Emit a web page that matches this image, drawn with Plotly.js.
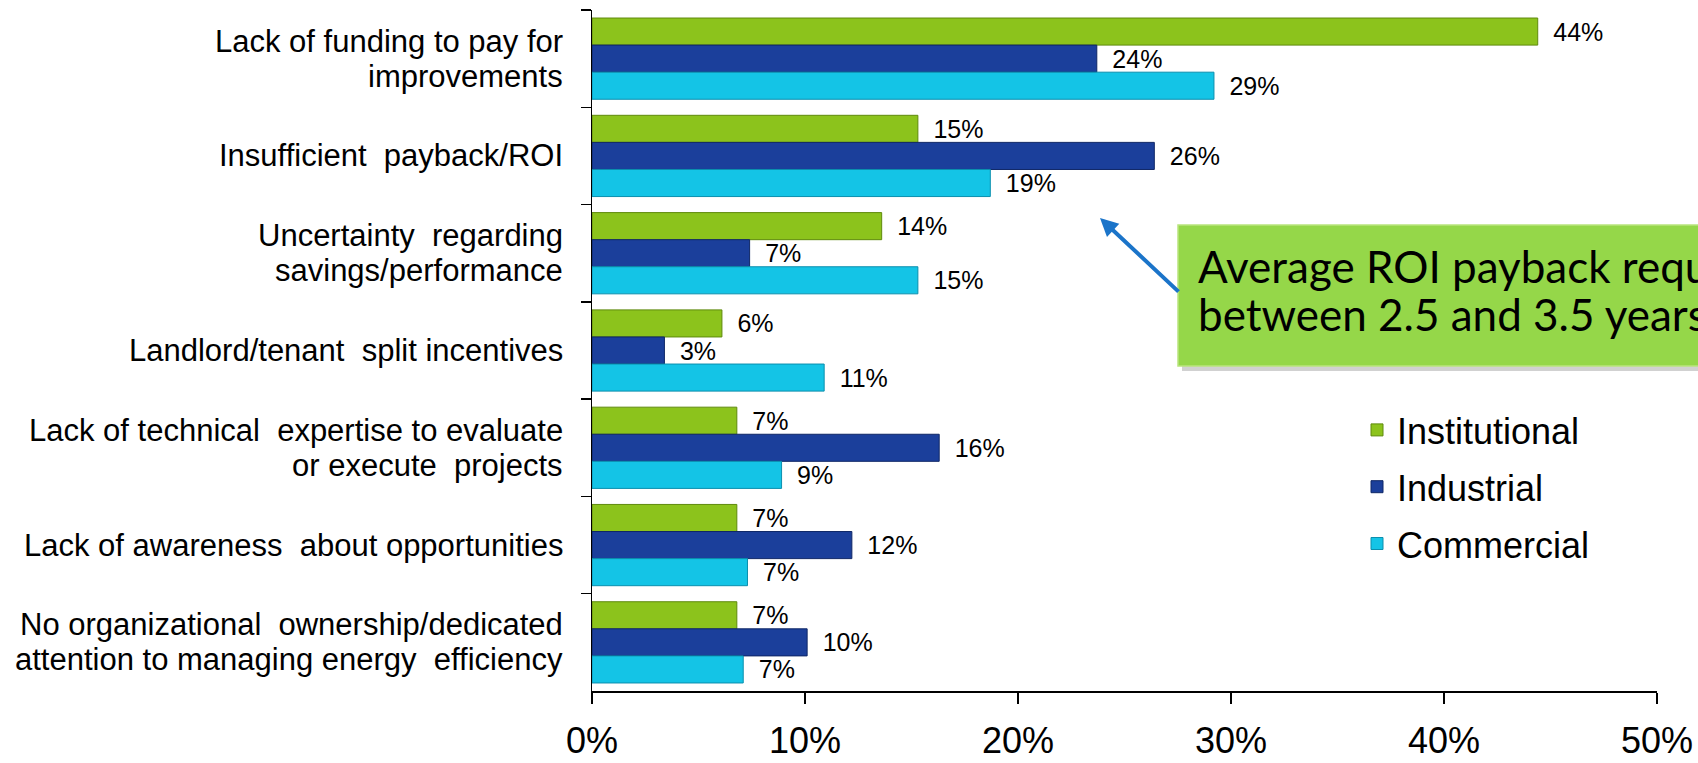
<!DOCTYPE html>
<html>
<head>
<meta charset="utf-8">
<script src="https://cdn.plot.ly/plotly-3.0.1.min.js"></script>
<style>
html,body{margin:0;padding:0;overflow:hidden;background:#ffffff;}
#chart{width:1698px;height:763px;overflow:hidden;}
</style>
</head>
<body>
<div id="chart"></div>
<script>
// ---- Data ----
const categories = [
  "Lack of funding to pay for<br>improvements",
  "Insufficient  payback/ROI",
  "Uncertainty  regarding<br>savings/performance",
  "Landlord/tenant  split incentives",
  "Lack of technical  expertise to evaluate<br>or execute  projects",
  "Lack of awareness  about opportunities",
  "No organizational  ownership/dedicated<br>attention to managing energy  efficiency"
];
const seriesNames = ["Institutional", "Industrial", "Commercial"];
const institutional = [0.444, 0.153, 0.136, 0.061, 0.068, 0.068, 0.068];
const industrial    = [0.237, 0.264, 0.074, 0.034, 0.163, 0.122, 0.101];
const commercial    = [0.292, 0.187, 0.153, 0.109, 0.089, 0.073, 0.071];
const tickValues = [0, 0.1, 0.2, 0.3, 0.4, 0.5];
const tickLabels = ["0%", "10%", "20%", "30%", "40%", "50%"];
const calloutLines = ["Average ROI payback required is", "between 2.5 and 3.5 years"];

// ---- Styling ----
const W = 1698, H = 763;
const M = {l: 592, r: 41, t: 10, b: 72};
const PW = W - M.l - M.r, PH = H - M.t - M.b;
const px2x = px => (px - M.l) / PW;
const px2y = py => 1 - (py - M.t) / PH;
const baseFont = "Liberation Sans, Arial, sans-serif";

const fills = ["#8cc31c", "#1b3f9b", "#14c4e6"];
const edges = ["#5f8a0c", "#0f2766", "#0b8fae"];
const valuesBySeries = [institutional, industrial, commercial];

const traces = seriesNames.map((name, i) => ({
  type: "bar",
  orientation: "h",
  name: name,
  legendgroup: name,
  x: valuesBySeries[i],
  y: categories,
  marker: {color: fills[i], line: {color: edges[i], width: 1}},
  texttemplate: "\u2002%{x:.0%}",
  textposition: "outside",
  constraintext: "none",
  cliponaxis: false,
  textfont: {family: baseFont, size: 25, color: "#000000"},
  hoverinfo: "skip"
}));

// category labels (centered multi-line, like the original)
const annotations = [];
const lineGap = 35;
categories.forEach(cat => {
  const lines = cat.split("<br>");
  lines.forEach((ln, j) => {
    annotations.push({
      xref: "paper", yref: "y",
      x: px2x(565), y: cat,
      xanchor: "right", yanchor: "middle",
      yshift: -((j - (lines.length - 1) / 2) * lineGap),
      text: ln, showarrow: false,
      font: {family: baseFont, size: 31, color: "#000000"}
    });
  });
});

// callout arrow
annotations.push({
  xref: "paper", yref: "paper",
  x: px2x(1100), y: px2y(218),
  ax: 80, ay: 75, axref: "pixel", ayref: "pixel",
  text: "", showarrow: true,
  arrowcolor: "#1b74c9", arrowwidth: 4, arrowhead: 2, arrowsize: 0.9, standoff: 0
});
// callout text
const calloutY = [266, 314];
calloutLines.forEach((ln, j) => {
  annotations.push({
    xref: "paper", yref: "paper",
    x: px2x(1196), y: px2y(calloutY[j]),
    xanchor: "left", yanchor: "middle",
    text: ln, showarrow: false,
    font: {family: "Lato, 'Open Sans', sans-serif", size: 44, color: "#000000"}
  });
});

const shapes = [
  {type: "rect", xref: "paper", yref: "paper", layer: "above",
   x0: px2x(1182), x1: 1.2, y0: px2y(371), y1: px2y(229),
   fillcolor: "rgba(0,0,0,0.18)", line: {width: 0}},
  {type: "rect", xref: "paper", yref: "paper", layer: "above",
   x0: px2x(1178), x1: 1.2, y0: px2y(366), y1: px2y(225),
   fillcolor: "#95d749", line: {color: "#b9e57e", width: 1.5}}
];

const layout = {
  width: W, height: H,
  margin: M,
  paper_bgcolor: "#ffffff",
  plot_bgcolor: "rgba(0,0,0,0)",
  barmode: "group",
  bargap: 0.165,
  bargroupgap: 0,
  showlegend: true,
  legend: {
    x: px2x(1357), xanchor: "left",
    y: px2y(400), yanchor: "top",
    traceorder: "grouped",
    tracegroupgap: 7,
    font: {family: baseFont, size: 36, color: "#000000"},
    bgcolor: "rgba(0,0,0,0)"
  },
  xaxis: {
    range: [0, 0.5],
    tickvals: tickValues, ticktext: tickLabels,
    ticks: "outside", ticklen: 11, tickwidth: 1.5, tickcolor: "#000000",
    showline: true, linecolor: "#000000", linewidth: 1.5,
    showgrid: false, zeroline: false,
    tickfont: {family: baseFont, size: 36, color: "#000000"},
    ticklabelstandoff: 6
  },
  yaxis: {
    type: "category",
    categoryorder: "array", categoryarray: categories,
    autorange: "reversed",
    ticks: "outside", ticklen: 10, tickwidth: 1.5, tickcolor: "#000000",
    tickson: "boundaries",
    showline: true, linecolor: "#000000", linewidth: 1.5,
    showgrid: false, zeroline: false,
    showticklabels: false
  },
  annotations: annotations,
  shapes: shapes
};

Plotly.newPlot("chart", traces, layout, {staticPlot: true, displayModeBar: false});
</script>
</body>
</html>
